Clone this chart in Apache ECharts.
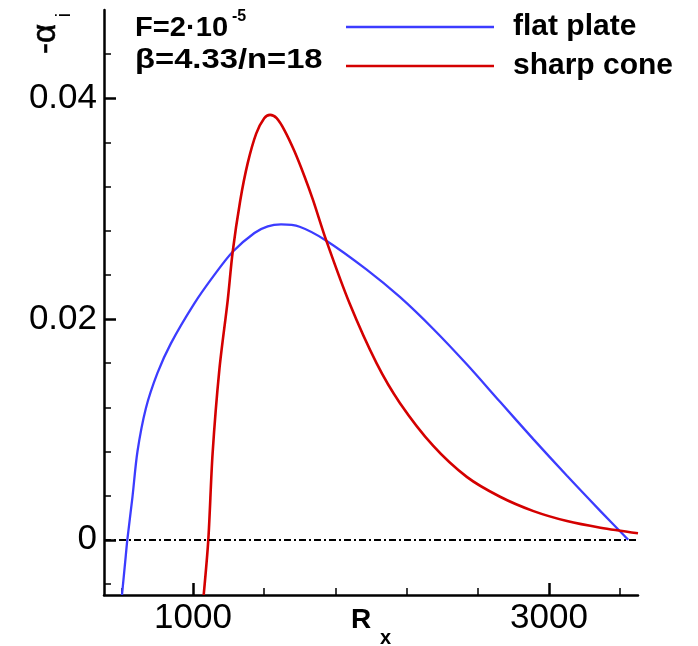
<!DOCTYPE html>
<html>
<head>
<meta charset="utf-8">
<script src="https://cdn.jsdelivr.net/npm/echarts@6/dist/echarts.min.js"></script>
<style>
  html, body { margin: 0; padding: 0; background: #fff; }
  #chart { width: 698px; height: 646px; }
</style>
</head>
<body>
<div id="chart"></div>
<script>
// Growth rate -alpha_i versus local Reynolds number R_x
const rxPlate = [601, 622, 631, 660, 688, 735, 800, 876, 1007, 1120, 1223, 1345, 1420, 1495, 1599, 1749, 1974, 2162, 2350, 2538, 2725, 2913, 3101, 3289, 3445];
const alphaPlate = [-0.005, -0.0015, 0, 0.0039, 0.0080, 0.0119, 0.0151, 0.0178, 0.0214, 0.0240, 0.0261, 0.0278, 0.0284, 0.02857, 0.02836, 0.0271, 0.0245, 0.0220, 0.0191, 0.0159, 0.0125, 0.0091, 0.0058, 0.0026, 0.0];

const rxCone = [1060, 1086, 1110, 1148, 1195, 1223, 1265, 1307, 1355, 1400, 1433, 1470, 1514, 1570, 1627, 1674, 1749, 1880, 2031, 2162, 2350, 2538, 2725, 2913, 3101, 3289, 3500];
const alphaCone = [-0.005, 0, 0.0078, 0.0154, 0.0217, 0.0261, 0.0307, 0.0341, 0.0368, 0.0382, 0.0385, 0.0382, 0.0371, 0.0352, 0.0329, 0.0308, 0.0271, 0.0214, 0.0160, 0.0124, 0.0085, 0.0057, 0.0039, 0.0026, 0.0017, 0.0011, 0.0006];

const seriesNames = ['flat plate', 'sharp cone'];

const xMajorTicks = [1000, 3000];
const xMinorTicks = [600, 1400, 1800, 2200, 2600, 3400];
const yMajorTicks = [0, 0.02, 0.04];
const yMinorTicks = [-0.004, 0.004, 0.008, 0.012, 0.016, 0.024, 0.028, 0.032, 0.036, 0.044];

const FONT = '"Liberation Sans", Arial, Helvetica, sans-serif';

const zip = (xs, ys) => xs.map((x, i) => [x, ys[i]]);

const chart = echarts.init(document.getElementById('chart'));

const xRange = { min: 500, max: 3500 };
const yRange = { min: -0.005, max: 0.048 };

chart.setOption({
  backgroundColor: '#fff',
  animation: false,
  grid: { left: 104, right: 60, top: 10, bottom: 51 },
  legend: {
    data: seriesNames,
    orient: 'vertical',
    left: 341,
    top: 7,
    icon: 'rect',
    itemWidth: 148,
    itemHeight: 2.5,
    itemGap: 9,
    textStyle: {
      fontFamily: FONT, fontSize: 30, fontWeight: 'bold', color: '#000',
      padding: [0, 0, 0, 14]
    }
  },
  xAxis: [
    {
      type: 'value', ...xRange, position: 'bottom',
      axisLine: { show: true, onZero: false, lineStyle: { color: '#000', width: 2.5 } },
      axisTick: { show: true, inside: true, length: 12, customValues: xMajorTicks, lineStyle: { color: '#000', width: 2.5 } },
      axisLabel: { customValues: xMajorTicks, formatter: v => String(v), fontFamily: FONT, fontSize: 35, color: '#000', margin: 6 },
      splitLine: { show: false }
    },
    {
      type: 'value', ...xRange, position: 'bottom',
      axisLine: { show: false, onZero: false },
      axisTick: { show: true, inside: true, length: 7, customValues: xMinorTicks, lineStyle: { color: '#000', width: 1.5 } },
      axisLabel: { show: false },
      splitLine: { show: false }
    }
  ],
  yAxis: [
    {
      type: 'value', ...yRange, position: 'left',
      axisLine: { show: true, onZero: false, lineStyle: { color: '#000', width: 2.5 } },
      axisTick: { show: true, inside: true, length: 12, customValues: yMajorTicks, lineStyle: { color: '#000', width: 2.5 } },
      axisLabel: { customValues: yMajorTicks, formatter: v => String(v), fontFamily: FONT, fontSize: 35, color: '#000', margin: 7 },
      splitLine: { show: false }
    },
    {
      type: 'value', ...yRange, position: 'left',
      axisLine: { show: false, onZero: false },
      axisTick: { show: true, inside: true, length: 7, customValues: yMinorTicks, lineStyle: { color: '#000', width: 1.5 } },
      axisLabel: { show: false },
      splitLine: { show: false }
    }
  ],
  series: [
    {
      // zero reference line
      type: 'line', data: [], z: 1, silent: true,
      markLine: {
        silent: true, symbol: ['none', 'none'], label: { show: false },
        lineStyle: { color: '#000', width: 2, type: [7, 3, 2, 3], opacity: 1 },
        emphasis: { disabled: true },
        data: [{ yAxis: 0 }]
      }
    },
    {
      name: seriesNames[0], type: 'line', z: 3,
      data: zip(rxPlate, alphaPlate),
      symbol: 'none', smooth: 0.3,
      itemStyle: { color: '#3c3cff' },
      lineStyle: { color: '#3c3cff', width: 2.3 }
    },
    {
      name: seriesNames[1], type: 'line', z: 3,
      data: zip(rxCone, alphaCone),
      symbol: 'none', smooth: 0.3,
      itemStyle: { color: '#d40000' },
      lineStyle: { color: '#d40000', width: 2.6 }
    }
  ],
  graphic: [
    // flow parameters
    { type: 'text', x: 135, y: 14, scaleX: 1.04, style: { text: 'F=2·10', font: 'bold 28px ' + FONT, fill: '#000' } },
    { type: 'text', x: 232, y: 9, style: { text: '-5', font: 'bold 16px ' + FONT, fill: '#000' } },
    { type: 'text', x: 135, y: 46, scaleX: 1.17, style: { text: 'β=4.33/n=18', font: 'bold 28px ' + FONT, fill: '#000' } },
    // x-axis title
    { type: 'text', x: 351, y: 606, style: { text: 'R', font: 'bold 28px ' + FONT, fill: '#000' } },
    { type: 'text', x: 380, y: 628, style: { text: 'x', font: 'bold 20px ' + FONT, fill: '#000' } },
    // y-axis title, rotated
    { type: 'text', x: 46, y: 39, rotation: Math.PI / 2,
      style: { text: '-α', font: '33px ' + FONT, fill: '#000', stroke: '#000', lineWidth: 0.6, align: 'center', verticalAlign: 'middle' } },
    { type: 'text', x: 64, y: 15, rotation: Math.PI / 2,
      style: { text: 'i', font: '20px ' + FONT, fill: '#000', align: 'center', verticalAlign: 'middle' } }
  ]
});
</script>
</body>
</html>
